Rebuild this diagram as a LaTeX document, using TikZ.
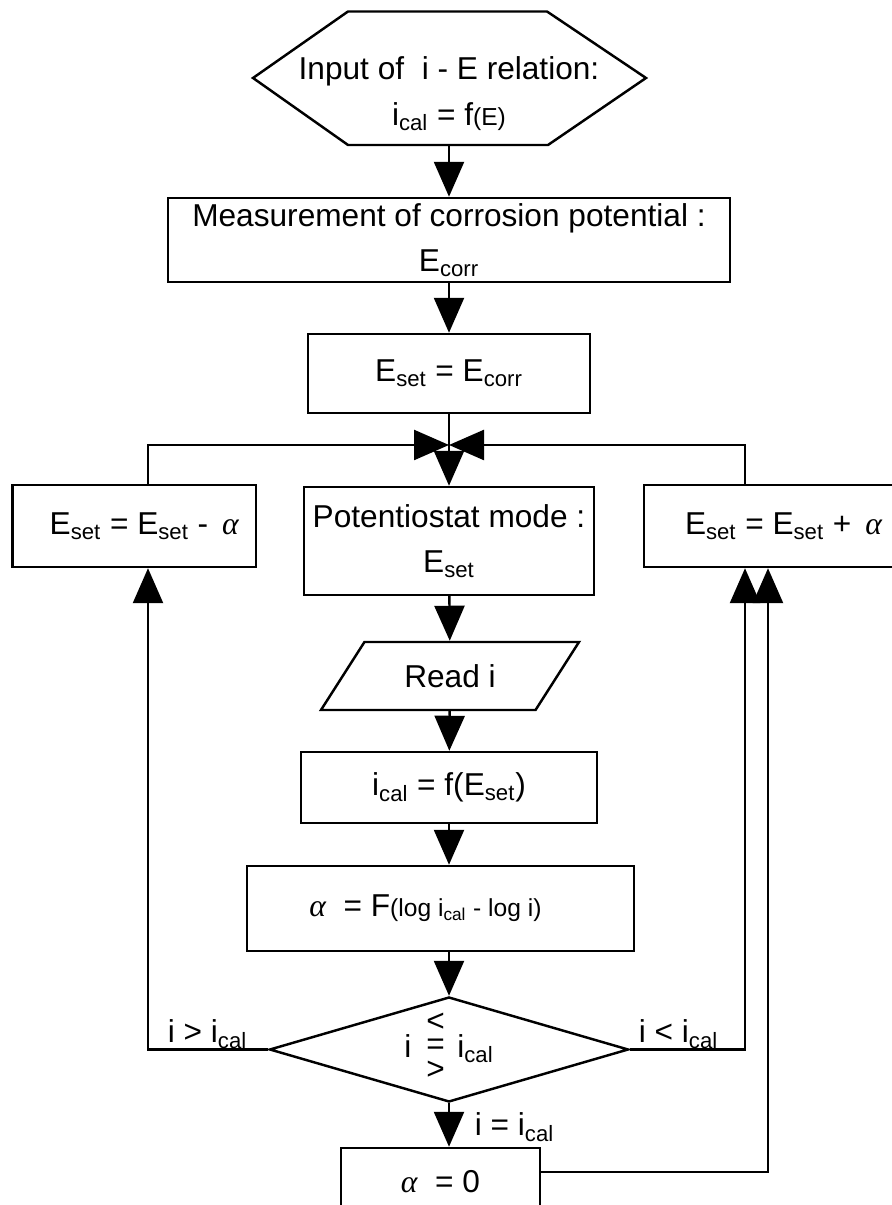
\documentclass[tikz,border=0pt]{standalone}
\usepackage{fontspec}
\setmainfont{Liberation Sans}
\newfontfamily\alffont{Liberation Serif}
\usetikzlibrary{arrows.meta,shapes.geometric}
\newcommand\alf{{\alffont\itshape α}}
\newcommand\smalltxt[1]{{\fontsize{14}{16}\selectfont #1}}

\begin{document}
\begin{tikzpicture}[line width=1.4pt,
every node/.style={font=\fontsize{18}{26}\selectfont,align=center,inner sep=0pt},
box/.style={draw,rectangle},
arr/.style={-{Triangle[length=0.7cm,width=0.6cm]}}]
\useasboundingbox (0,0) rectangle (17.84,24.1);
\draw (5.06,22.54) -- (6.96,23.87) -- (10.94,23.87) -- (12.92,22.54) -- (10.96,21.2) -- (6.96,21.2) -- cycle;
\node [minimum height=2.04cm] (input) at (8.98,22.22) {Input of~~i - E relation:\\ i\textsubscript{cal} = f\smalltxt{(E)}};
\node [box,minimum width=11.24cm,minimum height=1.68cm] (measure) at (8.98,19.30) {Measurement of corrosion potential :\\ E\textsubscript{corr}};
\node [box,minimum width=5.64cm,minimum height=1.58cm] (eset) at (8.98,16.63) {E\textsubscript{set} = E\textsubscript{corr}};
\node [box,minimum width=4.87cm,minimum height=1.64cm] (minus) at (2.685,13.58) {\hspace*{0.4cm}E\textsubscript{set} = E\textsubscript{set} - \,\alf};
\node [box,minimum width=5.8cm,minimum height=2.16cm] (pot) at (8.98,13.28) {Potentiostat mode :\\ E\textsubscript{set}};
\node [box,minimum width=5.58cm,minimum height=1.64cm] (plus) at (15.67,13.58) {E\textsubscript{set} = E\textsubscript{set} + \,\alf};
\node [draw,trapezium,trapezium left angle=45,trapezium right angle=135,trapezium stretches=true,minimum width=5.18cm,minimum height=1.36cm] (read) at (9.0,10.58) {Read i};
\node [box,minimum width=5.92cm,minimum height=1.42cm] (ical) at (8.98,8.35) {i\textsubscript{cal} = f(E\textsubscript{set})};
\node [box,minimum width=7.74cm,minimum height=1.7cm] (alpha) at (8.81,5.93) {\alf~~= F\smalltxt{(log i\textsubscript{cal} - log i)}\hspace*{0.6cm}};
\node [draw,diamond,aspect=3.4,minimum width=7.18cm,minimum height=2.1cm] (cmp) at (8.98,3.11) {i\hspace{0.3cm}{\renewcommand\arraystretch{0.5}\begin{tabular}{@{}c@{}}<\\=\\>\end{tabular}}\hspace{0.25cm}i\textsubscript{cal}};
\node [box,minimum width=3.98cm,minimum height=1.34cm] (zero) at (8.81,0.47) {\alf~~= 0};
\node (gt) at (4.15,3.42) {i > i\textsubscript{cal}};
\node (lt) at (13.57,3.42) {i < i\textsubscript{cal}};
\node (eq) at (10.29,1.56) {i = i\textsubscript{cal}};
\coordinate (ltop) at (2.96,15.2);
\coordinate (rtop) at (14.9,15.2);
\coordinate (back) at (15.36,0.66);
\draw[arr] (input) -- (measure);
\draw[arr] (measure) -- (eset);
\draw[arr] (eset) -- (pot);
\draw[arr] (minus.north -| ltop) -- (ltop) -- (eset.south |- ltop);
\draw[arr] (plus.north -| rtop) -- (rtop) -- (eset.south |- rtop);
\draw[arr] (pot) -- (read);
\draw[arr] (read) -- (ical);
\draw[arr] (ical) -- (ical |- alpha.north);
\draw[arr] (alpha.south -| cmp.north) -- (cmp.north);
\draw[arr] (cmp.west) -| (minus.south -| ltop);
\draw[arr] (cmp.east) -| (plus.south -| rtop);
\draw[arr] (cmp.south) -- (cmp.south |- zero.north);
\draw[arr] (zero.east |- back) -- (back) -- (plus.south -| back);
\end{tikzpicture}
\end{document}
